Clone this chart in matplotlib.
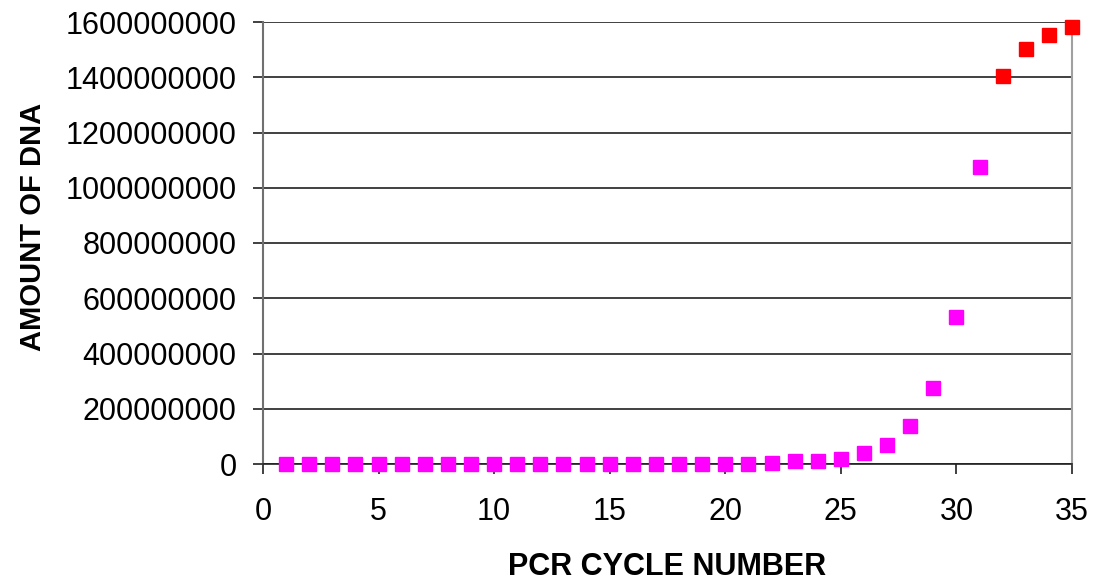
import matplotlib
matplotlib.use('Agg')
from matplotlib import pyplot as plt

plt.rcParams['font.family'] = ['Liberation Sans', 'DejaVu Sans']

# exponential phase (magenta) and plateau (red)
cycles_exp = list(range(1, 32))
dna_exp = [1, 2, 4, 8, 16, 32, 64, 128, 256, 512,
           1024, 2048, 4096, 8192, 16384, 32768, 65536, 131072, 262144, 524288,
           1048576, 2097152, 11000000, 11500000, 18000000, 40000000, 69000000, 137000000,
           274000000, 533000000, 1075000000]
cycles_plateau = [32, 33, 34, 35]
dna_plateau = [1404000000, 1502000000, 1553000000, 1582000000]

fig = plt.figure(figsize=(11.01, 5.83), dpi=100)
ax = fig.add_axes([263 / 1101, 119 / 583, (1072 - 263) / 1101, (464 - 22) / 583])

ax.plot(cycles_exp, dna_exp, linestyle='none', marker='s', markersize=10,
        color='#FF00FF', clip_on=False, zorder=3)
ax.plot(cycles_plateau, dna_plateau, linestyle='none', marker='s', markersize=10,
        color='#FF0000', clip_on=False, zorder=3)

ax.set_xlim(0, 35)
ax.set_ylim(0, 1600000000)
ax.set_xticks(range(0, 36, 5))
ax.set_yticks(range(0, 1600000001, 200000000))
ax.set_yticklabels([str(v) for v in range(0, 1600000001, 200000000)])

ax.yaxis.grid(True, color='#202020', linewidth=1.2)
ax.set_axisbelow(True)

ax.spines['top'].set_visible(False)
ax.spines['left'].set_color('#707070')
ax.spines['left'].set_linewidth(1.5)
ax.spines['right'].set_color('#a0a0a0')
ax.spines['right'].set_linewidth(1.5)
ax.spines['bottom'].set_color('#202020')
ax.spines['bottom'].set_linewidth(1.2)

ax.tick_params(axis='both', direction='out', length=7, width=1.2, labelsize=22,
               colors='#202020', labelcolor='black')
ax.tick_params(axis='x', pad=17)
ax.tick_params(axis='y', pad=12)

ax.set_xlabel('PCR CYCLE NUMBER', fontsize=22, fontweight='bold', labelpad=18)
ax.set_ylabel('AMOUNT OF DNA', fontsize=21, fontweight='bold')
ax.yaxis.set_label_coords(-0.267, 0.536)

fig.savefig('out.png', dpi=100)
